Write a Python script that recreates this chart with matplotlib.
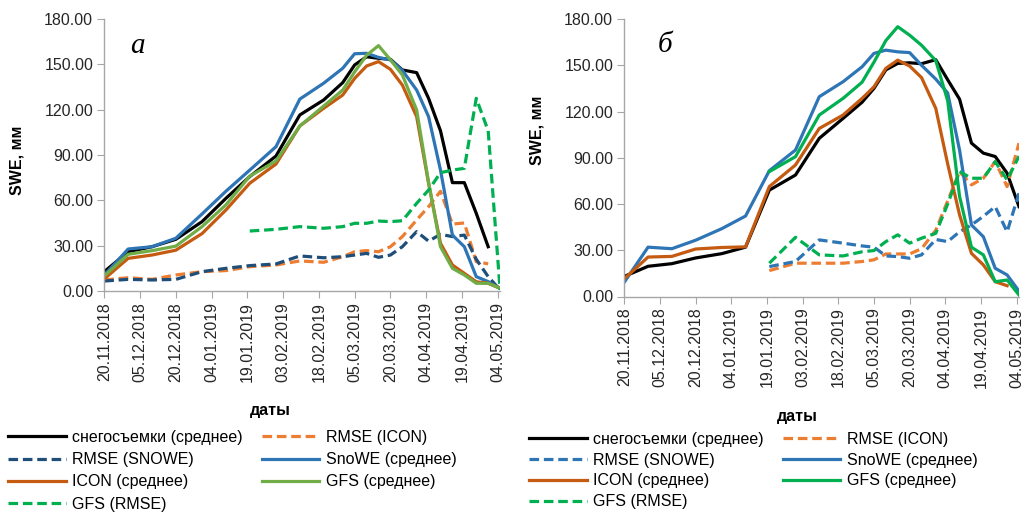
import numpy as np
import pandas as pd
import matplotlib
matplotlib.use('Agg')
import matplotlib.pyplot as plt
import matplotlib.dates as mdates
from matplotlib.ticker import FormatStrFormatter

plt.rcParams['font.family'] = ['Liberation Sans', 'DejaVu Sans']

nan = np.nan

# dates of the data points (same for both panels)
dates = pd.to_datetime(['2018-11-20', '2018-11-30', '2018-12-10', '2018-12-20', '2018-12-31',
                        '2019-01-10', '2019-01-20', '2019-01-31', '2019-02-10', '2019-02-20',
                        '2019-02-28', '2019-03-05', '2019-03-10', '2019-03-15', '2019-03-20',
                        '2019-03-25', '2019-03-31', '2019-04-05', '2019-04-10', '2019-04-15',
                        '2019-04-20', '2019-04-25', '2019-04-30', '2019-05-05'])

# panel "а"
obs_a = [12.8, 26, 29.3, 34.2, 45.9, 61.3, 75.7, 89.3, 116.5, 126.4, 137.9, 149.6,
         155, 154, 153.3, 146.3, 144.5, 127.5, 106, 71.7, 71.7, 51.4, 29.3, nan]
snowe_a = [10.5, 27.8, 29.3, 34.9, 51, 66, 80, 95.5, 127, 137.5, 147.4, 157,
           157.3, 154.6, 152.9, 146, 133, 115.4, 80, 37, 29.3, 9.5, 6.2, 1.8]
icon_a = [8, 21.6, 23.8, 27, 38, 53.6, 71.3, 84, 109.2, 120.9, 129.7, 140.7,
          148.9, 151.8, 146.7, 136.3, 115.4, 71.3, 31.6, 17.2, 11.7, 6.1, 5.1, 1.8]
gfs_a = [10, 24.3, 26.7, 29.7, 42.6, 57, 76, 86, 109.2, 122.4, 133, 145,
         156, 162.4, 153, 143, 119.8, 72, 29.3, 15, 10.6, 5.1, 5.1, 1.8]
rmse_icon_a = [7.3, 8.8, 7.7, 10.6, 12.8, 13.5, 16.1, 17.2, 19.9, 19, 22.7, 26,
               26.7, 26, 29.3, 36, 47, 55.8, 66, 44.3, 45, 19.4, 18, nan]
rmse_snowe_a = [6.6, 7.7, 7.3, 7.7, 12.8, 15, 16.8, 17.9, 23.2, 22, 22.7, 23.8,
                24.9, 22.3, 23.8, 29.3, 39.3, 33, 37.5, 36, 37, 21, 9.5, 0.7]
gfs_rmse_a = [nan, nan, nan, nan, nan, nan, 39.7, 40.8, 42.6, 41.5, 42.6, 44.8,
              44.8, 46.3, 45.9, 46.5, 58, 66.8, 78.3, 80, 81.2, 127.5, 106, 0.7]

# panel "б"
obs_b = [13, 19.6, 21.3, 25, 27.8, 32, 69, 78.8, 102.6, 115.5, 126, 135,
         147, 151.2, 151.6, 151, 153.6, 140.6, 128, 99.5, 93, 90.8, 80, 58.3]
snowe_b = [9.3, 32, 31, 36.5, 44, 52.2, 81.6, 95, 129.6, 139.3, 149, 157.7,
           159.8, 158.7, 158.2, 150, 141, 132, 95, 46.4, 38.8, 18.3, 14, 3.5]
icon_b = [11.5, 25.6, 26, 30.8, 31.8, 32.2, 71.3, 85.3, 109, 117.7, 128.5, 136,
          148, 153.3, 149.5, 142, 122, 86, 53, 28, 20.5, 9.6, 7, nan]
gfs_b = [nan, nan, nan, nan, nan, nan, 81, 90.7, 117.7, 128.5, 139, 152,
         166, 175, 169.5, 163, 153, 127, 65, 32, 27, 9.6, 10.7, 1]
rmse_icon_b = [nan, nan, nan, nan, nan, nan, 16.8, 21.6, 21.6, 21.6, 22.7, 23.8,
               27.6, 27.6, 27.6, 31, 43, 62, 81, 72.4, 76.7, 87.5, 71.3, 99.5]
rmse_snowe_b = [nan, nan, nan, nan, nan, nan, 19.4, 22.7, 36.7, 34.6, 32.8, 32,
                26.3, 25.9, 24.8, 27, 37, 35.6, 42, 46.4, 52, 58.3, 42, 67]
gfs_rmse_b = [nan, nan, nan, nan, nan, nan, 21.6, 38.4, 27, 26.3, 29, 29.8,
              35.6, 40, 34.6, 37.8, 41, 60, 81, 76.7, 76.7, 87.5, 75.6, 91]

labels = ['снегосъемки (среднее)', 'RMSE (ICON)', 'RMSE (SNOWE)', 'SnoWE (среднее)',
          'ICON (среднее)', 'GFS (среднее)', 'GFS (RMSE)']

tick_dates = pd.date_range('2018-11-20', periods=12, freq='15D')

fs = 11.5
lw = 2.3
dash = (0, (3, 1.5))

fig = plt.figure(figsize=(10.26, 5.12), dpi=100)


def panel(rect, series, colors, letter, letter_xy, ylab_xy, xlab_xy, leg_xy, leg_sp):
    ax = fig.add_axes(rect)
    handles = {}
    for name, vals, col, ls in zip(labels, series, colors,
                                   ['-', dash, dash, '-', '-', '-', dash]):
        ln, = ax.plot(dates, vals, color=col, lw=lw, linestyle=ls, label=name)
        handles[name] = ln
    ax.set_ylim(0, 180)
    ax.set_yticks(np.arange(0, 181, 30))
    ax.yaxis.set_major_formatter(FormatStrFormatter('%.2f'))
    ax.set_xlim(pd.Timestamp('2018-11-20'), pd.Timestamp('2019-05-05'))
    ax.set_xticks(tick_dates)
    ax.xaxis.set_major_formatter(mdates.DateFormatter('%d.%m.%Y'))
    plt.setp(ax.get_xticklabels(), rotation=90)
    for s in ['top', 'right']:
        ax.spines[s].set_visible(False)
    for s in ['left', 'bottom']:
        ax.spines[s].set_color('#A6A6A6')
        ax.spines[s].set_linewidth(1)
    ax.tick_params(axis='both', direction='out', length=5, color='#A6A6A6',
                   labelsize=fs, labelcolor='#262626', pad=3)
    fig.text(letter_xy[0] / 1026, 1 - letter_xy[1] / 512, letter, fontsize=21,
             family='Liberation Serif', style='italic', ha='center', va='center')
    fig.text(ylab_xy[0] / 1026, 1 - ylab_xy[1] / 512, 'SWE, мм', fontsize=fs,
             weight='bold', rotation=90, ha='center', va='center')
    fig.text(xlab_xy[0] / 1026, 1 - xlab_xy[1] / 512, 'даты', fontsize=fs,
             weight='bold', ha='center', va='center')
    order = [labels[i] for i in [0, 2, 4, 6, 1, 3, 5]]
    fig.legend([handles[n] for n in order], order, ncol=2, frameon=False,
               loc='upper left', bbox_to_anchor=(leg_xy[0] / 1026, 1 - leg_xy[1] / 512),
               fontsize=fs, handlelength=3.6, handletextpad=0.4, columnspacing=1.2,
               labelspacing=leg_sp, borderpad=0, borderaxespad=0)
    return ax


panel([104.3 / 1026, 1 - 291 / 512, 395.8 / 1026, 272 / 512],
      [obs_a, rmse_icon_a, rmse_snowe_a, snowe_a, icon_a, gfs_a, gfs_rmse_a],
      ['black', '#ED7D31', '#1F4E79', '#2E75B6', '#C55A11', '#70AD47', '#00B050'],
      'а', (137, 46), (17, 160), (270, 410), (8, 430), 0.45)

panel([624.3 / 1026, 1 - 296.5 / 512, 394.7 / 1026, 277.5 / 512],
      [obs_b, rmse_icon_b, rmse_snowe_b, snowe_b, icon_b, gfs_b, gfs_rmse_b],
      ['black', '#ED7D31', '#2E75B6', '#2E75B6', '#C55A11', '#00B050', '#00B050'],
      'б', (665, 45), (537, 130), (797, 417), (529, 432), 0.36)

fig.savefig('out.png', dpi=100)
